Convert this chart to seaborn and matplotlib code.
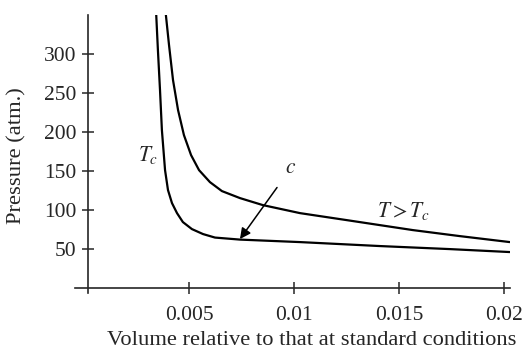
import numpy as np
import pandas as pd
import matplotlib
matplotlib.use('Agg')
import matplotlib.pyplot as plt
import seaborn as sns

# critical isotherm T_c (volume, pressure in atm)
vol_tc = [0.00344, 0.00352, 0.00362, 0.00371, 0.00386, 0.00400, 0.00419, 0.00443,
          0.00471, 0.00514, 0.00567, 0.00624, 0.00743, 0.01029, 0.01410, 0.01743, 0.02029]
p_tc = [350, 304.9, 253.5, 202.2, 150.8, 125.2, 108.5, 95.6,
        84.1, 75.1, 68.7, 64.2, 61.6, 58.4, 53.3, 49.4, 45.6]

# isotherm above T_c
vol_hot = [0.00390, 0.00405, 0.00424, 0.00448, 0.00476, 0.00510, 0.00548, 0.00600,
           0.00657, 0.00743, 0.00852, 0.01029, 0.01252, 0.01567, 0.01790, 0.02029]
p_hot = [350, 311.3, 266.4, 227.9, 195.8, 170.1, 150.8, 135.4,
         123.9, 114.9, 105.9, 95.6, 86.6, 73.8, 66.1, 58.4]

xticks = [0.005, 0.01, 0.015, 0.02]
xtick_labels = ['0.005', '0.01', '0.015', '0.02']
yticks = [50, 100, 150, 200, 250, 300]

df = pd.concat([
    pd.DataFrame({'vol': vol_tc, 'p': p_tc, 'curve': 'Tc'}),
    pd.DataFrame({'vol': vol_hot, 'p': p_hot, 'curve': 'hot'}),
])

sns.set_style('ticks')
plt.rcParams['font.family'] = ['Liberation Serif', 'DejaVu Serif']
plt.rcParams['mathtext.fontset'] = 'stix'
fs = 15.5
fs_lab = 16.2

fig = plt.figure(figsize=(5.25, 3.51), dpi=100)
ax = fig.add_axes([0.1429, 0.1652, 0.8286, 0.792])

sns.lineplot(data=df, x='vol', y='p', units='curve', estimator=None, sort=False,
             color='black', lw=1.6, ax=ax)

ax.set_xlim(-0.00043, 0.0203)
ax.set_ylim(-7, 350)
ax.spines['top'].set_visible(False)
ax.spines['right'].set_visible(False)
ax.spines['left'].set_position(('data', 0.0002))
ax.spines['bottom'].set_position(('data', 0))
for s in ['left', 'bottom']:
    ax.spines[s].set_linewidth(1.2)

ax.set_xticks(xticks)
ax.set_xticklabels(xtick_labels)
ax.set_yticks(yticks)
ax.tick_params(direction='inout', length=9, width=1.1, labelsize=fs, pad=4)
ax.tick_params(axis='x', pad=9)
ax.set_xlabel('')
ax.set_ylabel('')

fig.text(0.594, 0.031, 'Volume relative to that at standard conditions',
         fontsize=fs_lab, ha='center', va='center')
fig.text(0.033, 0.558, 'Pressure (atm.)', fontsize=fs_lab, rotation=90,
         ha='center', va='center')

ax.text(0.00305, 170, '$T_c$', fontsize=fs, ha='center', va='center')
ax.text(0.01524, 98, '$T > T_c$', fontsize=fs, ha='center', va='center')
ax.annotate('$c$', xy=(0.00743, 62.3), xytext=(0.00985, 153), fontsize=fs,
            ha='center', va='center',
            arrowprops=dict(arrowstyle='-|>', color='black', lw=1.1,
                            mutation_scale=16, shrinkA=6, shrinkB=0))

fig.savefig('out.png', dpi=100)
